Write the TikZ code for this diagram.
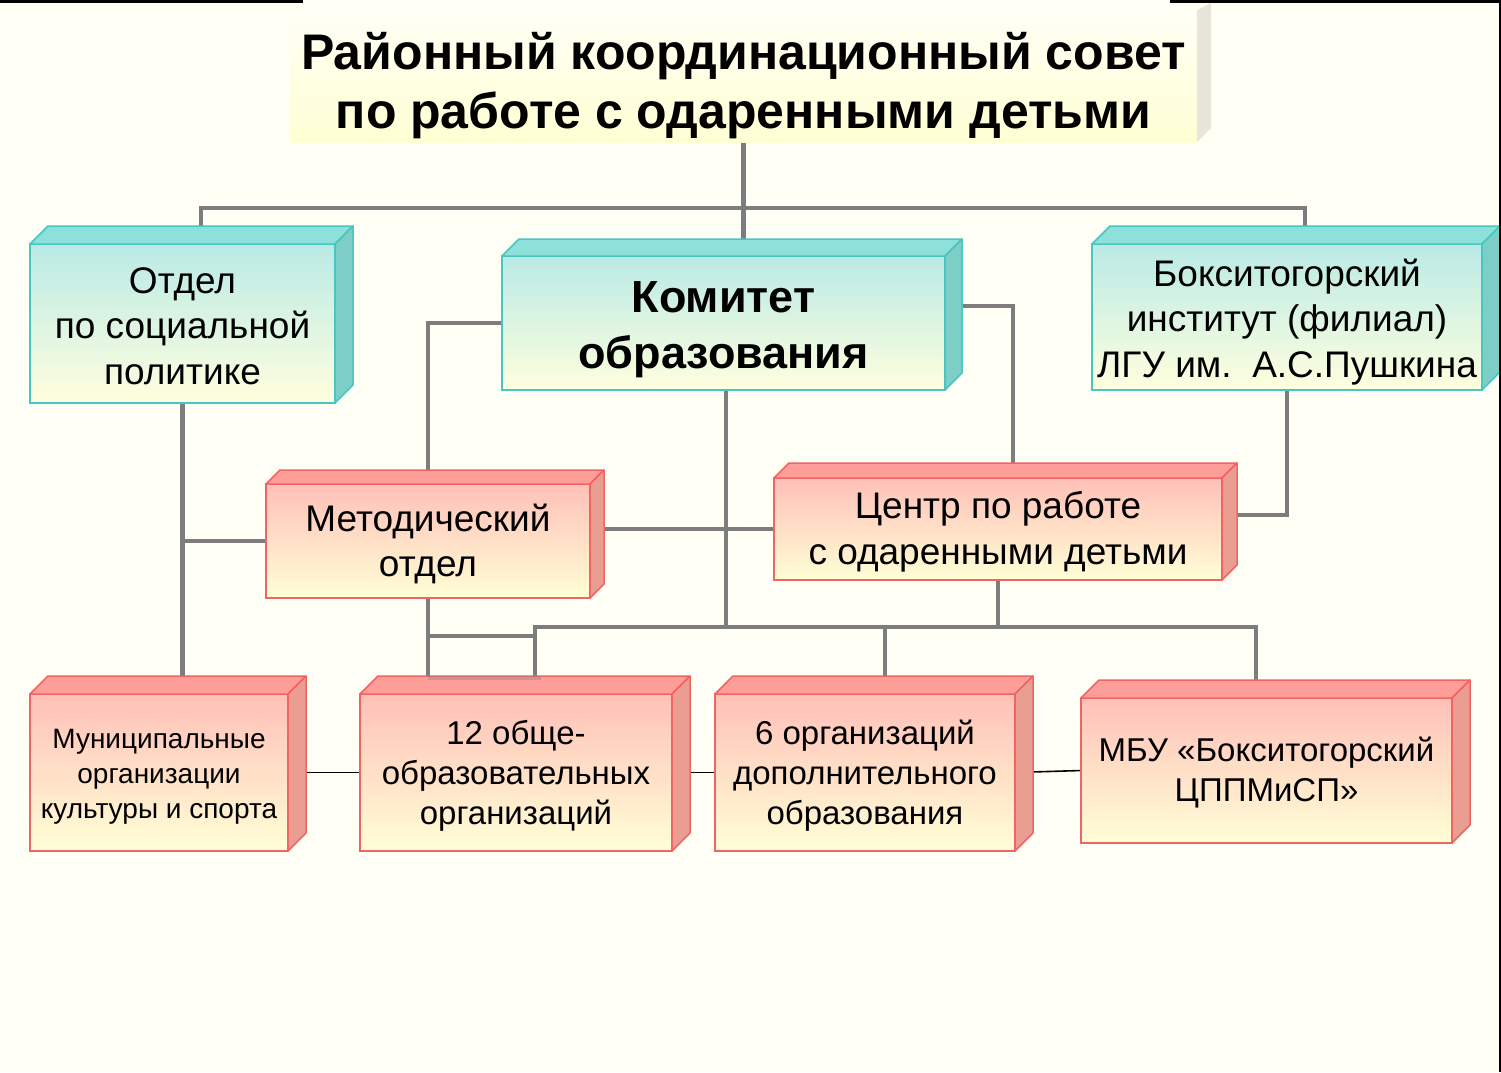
\documentclass[tikz,border=0pt]{standalone}
\usepackage{fontspec}
\setmainfont{Liberation Sans}
\usetikzlibrary{calc}
\pgfdeclarelayer{bg}
\pgfsetlayers{bg,main}
\definecolor{bgc}{RGB}{255,255,245}
\definecolor{connC}{RGB}{125,125,125}
\definecolor{cyanBorder}{RGB}{72,198,192}
\definecolor{cyanTop}{RGB}{186,234,230}
\definecolor{cyanBot}{RGB}{255,255,222}
\definecolor{cyanLid}{RGB}{142,224,218}
\definecolor{cyanSide}{RGB}{124,206,198}
\definecolor{redBorder}{RGB}{240,100,100}
\definecolor{redTop}{RGB}{255,192,184}
\definecolor{redBot}{RGB}{255,255,214}
\definecolor{redLid}{RGB}{255,158,153}
\definecolor{redSide}{RGB}{234,158,146}
\definecolor{titleTop}{RGB}{255,255,246}
\definecolor{titleBot}{RGB}{255,255,212}
\definecolor{titleSide}{RGB}{230,230,218}
\tikzset{
  boxbase/.style={inner sep=0pt, outer sep=0pt, align=center, line width=1.5pt},
  cyanbox/.style={boxbase, draw=cyanBorder, top color=cyanTop, bottom color=cyanBot},
  redbox/.style={boxbase, draw=redBorder, top color=redTop, bottom color=redBot},
  titlebox/.style={inner sep=0pt, outer sep=0pt, align=center, top color=titleTop, bottom color=titleBot},
  conn/.style={draw=connC, line width=4.5pt},
  thinconn/.style={draw=black, line width=1.6pt},
  bigtxt/.style={font=\fontsize{37}{45.5}\selectfont},
  midtxt/.style={font=\fontsize{33}{40}\selectfont},
  smalltxt/.style={font=\fontsize{28}{35}\selectfont},
}
\newcommand\strt[1]{\rule{0pt}{#1pt}}
\newcommand\cubefaces[5]{%
  \filldraw[fill=#3, draw=#5, line width=1.5pt, line join=round]
    (#1.north west) -- ++(#2,-#2) -- ($(#1.north east)+(#2,-#2)$) -- (#1.north east) -- cycle;
  \filldraw[fill=#4, draw=#5, line width=1.5pt, line join=round]
    (#1.north east) -- ++(#2,-#2) -- ($(#1.south east)+(#2,-#2)$) -- (#1.south east) -- cycle;
}
\begin{document}
\begin{tikzpicture}[x=1pt,y=-1pt]
\useasboundingbox (0,0) rectangle (1501,1072);
% title
\node[titlebox, minimum width=907pt, minimum height=132pt,
      font=\bfseries\fontsize{50}{59}\selectfont] (T) at (743.5,76)
  {\strt{57}Районный координационный совет\\по работе с одаренными детьми};
\fill[titleSide] (T.south east) -- ++(14,-14) -- ($(T.north east)+(14,-7)$) -- (T.north east) -- cycle;
% row 1
\node[cyanbox, bigtxt, minimum width=305pt, minimum height=159pt] (A) at (182.5,323.5)
  {\strt{31}Отдел\\по социальной\\политике};
\cubefaces{A}{18}{cyanLid}{cyanSide}{cyanBorder}
\node[cyanbox, font=\bfseries\fontsize{45}{56}\selectfont, minimum width=443pt, minimum height=134pt] (K) at (723.5,323)
  {\strt{44}Комитет\\образования};
\cubefaces{K}{17}{cyanLid}{cyanSide}{cyanBorder}
\node[cyanbox, bigtxt, minimum width=390pt, minimum height=146pt] (B) at (1287,317)
  {\strt{37}Бокситогорский\\институт (филиал)\\ЛГУ им.\ \ А.С.Пушкина};
\cubefaces{B}{18}{cyanLid}{cyanSide}{cyanBorder}
% row 2
\node[redbox, bigtxt, minimum width=324pt, minimum height=114pt] (M) at (428,541)
  {\strt{33}Методический\\отдел};
\cubefaces{M}{14}{redLid}{redSide}{redBorder}
\node[redbox, bigtxt, minimum width=448pt, minimum height=102pt] (C) at (998,529)
  {\strt{33}Центр по работе\\с одаренными детьми};
\cubefaces{C}{15}{redLid}{redSide}{redBorder}
% row 3
\node[redbox, smalltxt, minimum width=258pt, minimum height=157pt] (Mu) at (159,772.5)
  {\strt{28}Муниципальные\\организации\\культуры и спорта};
\cubefaces{Mu}{18}{redLid}{redSide}{redBorder}
\node[redbox, midtxt, minimum width=312pt, minimum height=157pt] (S) at (516,772.5)
  {\strt{31}12 обще-\\образовательных\\организаций};
\cubefaces{S}{18}{redLid}{redSide}{redBorder}
\node[redbox, midtxt, minimum width=300pt, minimum height=157pt] (D) at (865,772.5)
  {\strt{31}6 организаций\\дополнительного\\образования};
\cubefaces{D}{18}{redLid}{redSide}{redBorder}
\node[redbox, midtxt, minimum width=371pt, minimum height=145pt] (E) at (1266.5,770.5)
  {\strt{28}МБУ «Бокситогорский\\ЦППМиСП»};
\cubefaces{E}{18}{redLid}{redSide}{redBorder}
% connector helper points
\coordinate (busL) at (201,208);
\coordinate (busR) at (1305,208);
\coordinate (bus2L) at (535,627);
\coordinate (bus2R) at (1256,627);
\coordinate (dTap) at (885,627);
\coordinate (mj) at (428,636);
\coordinate (kr) at (1013,306);
\coordinate (br) at (1287,515);
\coordinate (sj) at (541,678);
\coordinate (kd) at (726,390);
\begin{pgfonlayer}{bg}
  \fill[bgc] (0,0) rectangle (1501,1072);
  \draw[conn] (T.south) -- (T.south |- K.north);
  \draw[conn] (busL |- A.north) -- (busL) -- (busR) -- (busR |- B.north);
  \draw[conn] (A.south) -- (A.south |- Mu.north);
  \draw[conn] (A.south |- M.west) -- (M.west);
  \draw[conn] (K.west) -| (M.north);
  \draw[conn] (kd |- K.south) -- (kd |- bus2L);
  \draw[conn] (bus2L |- S.north) -- (bus2L) -- (bus2R) -- (bus2R |- E.north);
  \draw[conn] (dTap) -- (dTap |- D.north);
  \draw[conn] (C.south) -- (C.south |- bus2L);
  \draw[conn] (M.south) -- (M.south |- S.north);
  \draw[conn] (mj) -- (mj -| bus2L);
  \draw[conn] (K.east |- kr) -- (kr) -- (kr |- C.north);
  \draw[conn] (M.east |- C.west) -- (C.west);
  \draw[conn] (B.south) -- (br) -- (br -| C.east);
  \draw[thinconn] (Mu.east) -- (S.west);
  \draw[thinconn] (S.east) -- (D.west);
  \draw[thinconn] (D.east) -- (E.west);
\end{pgfonlayer}
\draw[draw=connC, line width=4pt, opacity=0.35] (M.south |- sj) -- (sj);
% frame edges
\fill[black] (0,0) rectangle (303,2.5);
\fill[black] (1170,0) rectangle (1501,2.5);
\fill[black] (1498.5,0) rectangle (1501,1072);
\end{tikzpicture}
\end{document}
